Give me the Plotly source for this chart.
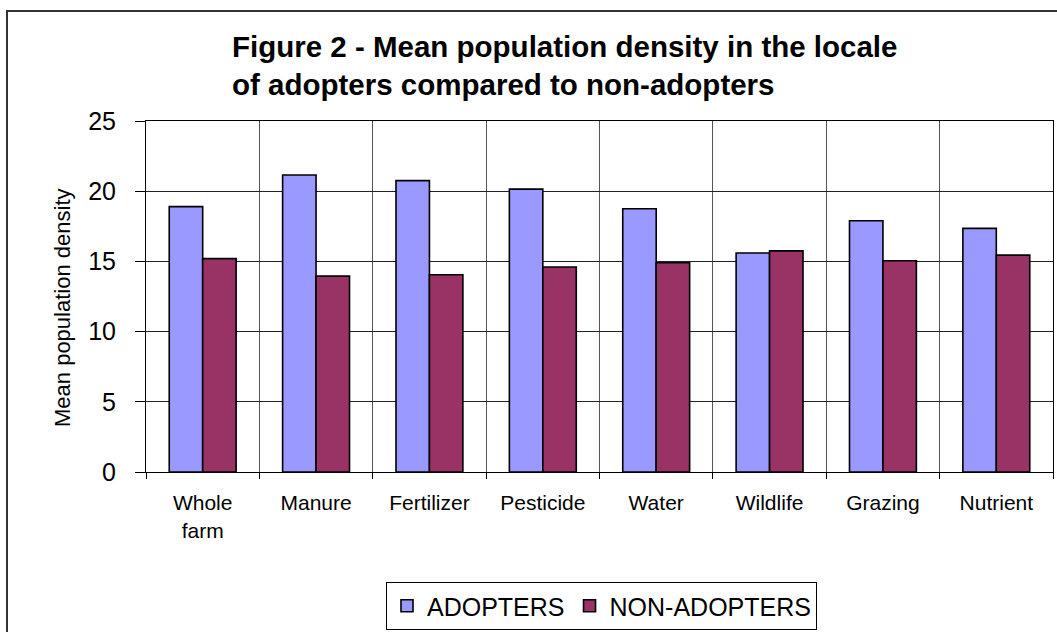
import plotly.graph_objects as go

categories = ["Whole<br>farm", "Manure", "Fertilizer", "Pesticide", "Water", "Wildlife", "Grazing", "Nutrient"]
adopters = [18.9, 21.15, 20.75, 20.15, 18.75, 15.6, 17.9, 17.35]
non_adopters = [15.2, 13.95, 14.05, 14.6, 14.9, 15.75, 15.05, 15.45]
y_ticks = [0, 5, 10, 15, 20, 25]

W, H = 1057, 632
L, R, T, B = 146, 1053, 121, 472  # plot area in px
pw, ph = R - L, B - T

def px_x(x):
    return (x - L) / pw

def px_y(y):
    return (B - y) / ph

FONT = "Arial, Liberation Sans, sans-serif"

fig = go.Figure()
fig.add_trace(go.Bar(name="ADOPTERS", x=categories, y=adopters,
                     marker=dict(color="#9999FF", line=dict(color="#000000", width=1.6))))
fig.add_trace(go.Bar(name="NON-ADOPTERS", x=categories, y=non_adopters,
                     marker=dict(color="#993366", line=dict(color="#000000", width=1.6))))

fig.update_layout(
    width=W, height=H,
    margin=dict(l=L, r=W - R, t=T, b=H - B, autoexpand=False),
    paper_bgcolor="white", plot_bgcolor="white",
    font=dict(family=FONT, color="#000000"),
    barmode="group", bargap=0.41, bargroupgap=0,
    showlegend=True,
    legend=dict(orientation="h", x=px_x(601.5), xanchor="center",
                y=px_y(582), yanchor="top",
                font=dict(size=25, family=FONT),
                bordercolor="#000000", borderwidth=1, bgcolor="white",
                itemclick=False),
    xaxis=dict(showline=True, linecolor="#000000", linewidth=1, mirror=True,
               ticks="outside", ticklen=6, tickcolor="#000000", tickson="boundaries",
               showgrid=True, gridcolor="#555555", gridwidth=1,
               tickfont=dict(size=21, family=FONT), ticklabelstandoff=12),
    yaxis=dict(range=[0, 25], tickvals=y_ticks, showline=True, linecolor="#000000",
               linewidth=1, mirror=True, ticks="outside", ticklen=10, tickcolor="#000000",
               showgrid=True, gridcolor="#222222", gridwidth=1, zeroline=False,
               tickfont=dict(size=25, family=FONT), ticklabelstandoff=14),
    annotations=[
        dict(text="<b>Figure 2 - Mean population density in the locale<br>of adopters compared to non-adopters</b>",
             xref="paper", yref="paper", x=px_x(230), y=px_y(28), xanchor="left", yanchor="top",
             align="left", showarrow=False, font=dict(size=29.5, family=FONT, color="#000000")),
        dict(text="Mean population density", xref="paper", yref="paper",
             x=px_x(62), y=px_y(308), xanchor="center", yanchor="middle", textangle=-90,
             showarrow=False, font=dict(size=22, family=FONT, color="#000000")),
    ],
    shapes=[
        dict(type="rect", xref="paper", yref="paper", x0=px_x(7), y0=px_y(650), x1=px_x(1070), y1=px_y(11),
             line=dict(color="#333333", width=2), fillcolor="rgba(0,0,0,0)", layer="below"),
    ],
)

fig.write_html("out.html",
               config={"displayModeBar": False},
               post_script="document.body.style.margin='0';document.body.style.overflow='hidden';")
